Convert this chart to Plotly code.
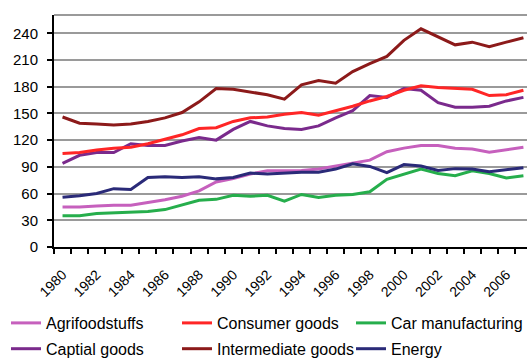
import plotly.graph_objects as go

years = list(range(1980, 2008))
tick_years = list(range(1980, 2007, 2))

agrifood = [45, 45, 46, 47, 47, 50, 53, 57, 63, 73, 77, 82, 85.5, 85.5, 86, 87.5, 91, 94.5,
            97.5, 107, 111, 114, 114, 111, 110, 106.5, 109, 112]
consumer = [105, 106, 109, 111, 112, 116, 121, 126, 133, 134, 141, 145, 146, 149, 151, 148, 153,
            158, 164, 169, 176, 181, 179, 178, 177, 170, 171, 176]
car = [35, 35, 37.5, 38.5, 39.5, 40, 42, 47, 52.5, 53.5, 58, 57, 58, 51.5, 59, 55.5, 58, 59, 62,
       76, 81.5, 87.5, 82.5, 80, 85.5, 82.5, 77.5, 80]
capital = [94, 103, 106, 106, 116, 114, 114, 119, 123, 120, 132, 141, 136, 133, 132, 136, 145,
           153, 170, 168, 178, 176, 162, 157, 157, 158, 164, 168]
intermediate = [146, 139, 138, 137, 138, 141, 145, 151, 163, 178, 177, 174, 171, 166, 182, 187,
                184, 197, 206, 214, 232, 245, 236, 227, 230, 225, 230, 235]
energy = [56, 57.5, 60, 65.5, 64.5, 78, 79, 78, 79, 76.5, 78, 83, 82, 83, 84, 84, 87.5, 93.5,
          90.5, 83.5, 92.5, 91, 86, 88, 87.5, 84.5, 87, 89]

# name, values, colour, legend column
series = [
    ("Agrifoodstuffs", agrifood, "#C660BD", "legend"),
    ("Captial goods", capital, "#7A2A8C", "legend"),
    ("Consumer goods", consumer, "#FF2626", "legend2"),
    ("Intermediate goods", intermediate, "#8C1A1A", "legend2"),
    ("Car manufacturing", car, "#26AE4C", "legend3"),
    ("Energy", energy, "#2A2A78", "legend3"),
]

font_family = "Arial, Liberation Sans, sans-serif"

fig = go.Figure()
for name, vals, col, leg in series:
    fig.add_trace(go.Scatter(x=years, y=vals, name=name, mode="lines", legend=leg,
                             legendgroup=name, line=dict(color=col, width=3)))


def legend_at(xpx):
    return dict(orientation="v", xref="container", yref="container",
                x=xpx / 527, y=1 - 306 / 359, xanchor="left", yanchor="top",
                font=dict(size=16, family=font_family, color="black"),
                traceorder="grouped", tracegroupgap=2,
                bgcolor="rgba(0,0,0,0)", borderwidth=0)


fig.update_layout(
    width=527, height=359,
    margin=dict(l=54, r=0, t=15, b=112, autoexpand=False),
    paper_bgcolor="white", plot_bgcolor="white",
    font=dict(family=font_family, color="black"),
    showlegend=True,
    legend=legend_at(6),
    legend2=legend_at(177),
    legend3=legend_at(351),
    xaxis=dict(range=[1979.5, 2007.21], tickmode="array", tickvals=tick_years,
               ticktext=[str(y) for y in tick_years], tickangle=-45, ticks="",
               tickfont=dict(size=14), showgrid=False, zeroline=False,
               showline=True, linecolor="black", linewidth=2,
               ticklabelstandoff=12, automargin=False,
               minor=dict(tickmode="linear", tick0=1979.5, dtick=1, ticks="outside",
                          ticklen=5, tickwidth=2, tickcolor="black", showgrid=False)),
    yaxis=dict(range=[0, 260.5], tickmode="array", tickvals=list(range(0, 241, 30)),
               ticks="outside", ticklen=5, tickwidth=2, tickcolor="black",
               tickfont=dict(size=15), showgrid=True, gridcolor="#9a9a9a", gridwidth=2,
               zeroline=False, showline=True, linecolor="black", linewidth=2,
               ticklabelstandoff=6, automargin=False),
)
fig.add_shape(type="line", xref="paper", yref="paper", x0=0, x1=1, y0=1, y1=1,
              line=dict(color="#9a9a9a", width=2), layer="below")

fig.write_html("out.html")
